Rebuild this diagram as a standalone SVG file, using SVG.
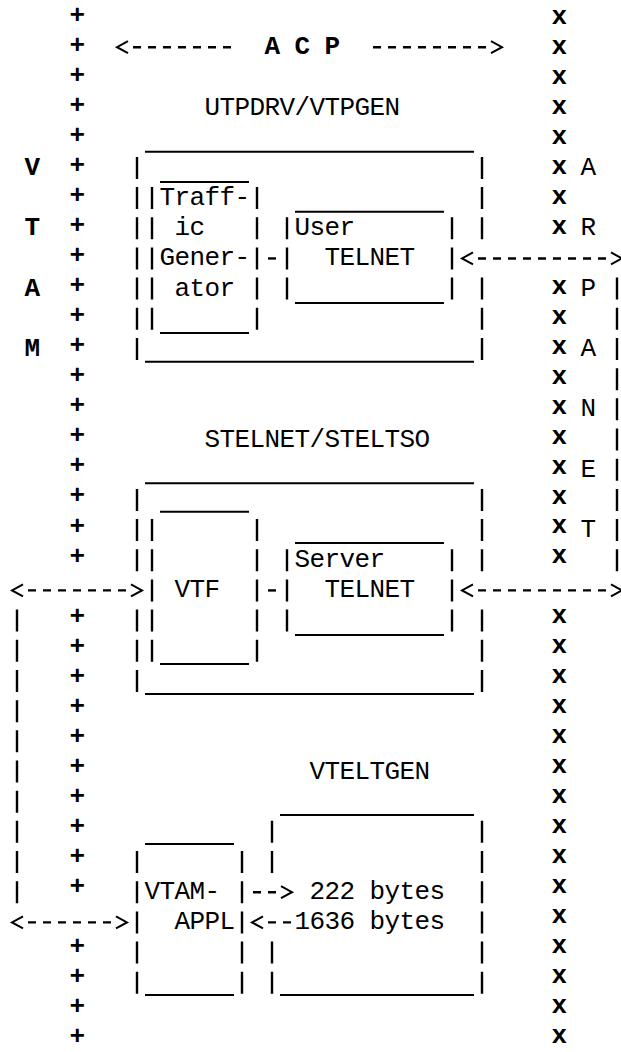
<svg xmlns="http://www.w3.org/2000/svg" width="621" height="1052" viewBox="0 0 621 1052">
<style>
  .t { font-family: "Liberation Mono", "DejaVu Sans Mono", monospace; font-size: 26px; letter-spacing: -0.6px; fill: #000; }
  .b { font-weight: bold; }
  .ln { stroke: #000; stroke-width: 2; fill: none; }
  .bar { stroke: #000; stroke-width: 2.4; fill: none; stroke-dasharray: 22 8.18; }
  .dash { stroke: #000; stroke-width: 2.4; fill: none; stroke-dasharray: 8 7; }
  .arr { marker-end: url(#head); }
  .arr2 { marker-start: url(#head); marker-end: url(#head); }
</style>
<defs>
  <marker id="head" markerUnits="userSpaceOnUse" markerWidth="30" markerHeight="30" refX="-5" refY="0" orient="auto-start-reverse" overflow="visible" viewBox="-10 -10 30 20">
    <path d="M0,-6 L11,0 L0,6" fill="none" stroke="#000" stroke-width="2"/>
  </marker>
</defs>
<rect width="621" height="1052" fill="#fff"/>

<g id="vtam">
  <text class="t b">
    <tspan x="69.5" y="23">+</tspan><tspan x="69.5" y="53.03">+</tspan><tspan x="69.5" y="83.06">+</tspan><tspan x="69.5" y="113.09">+</tspan><tspan x="69.5" y="143.12">+</tspan><tspan x="69.5" y="173.15">+</tspan><tspan x="69.5" y="203.18">+</tspan><tspan x="69.5" y="233.21">+</tspan><tspan x="69.5" y="263.24">+</tspan><tspan x="69.5" y="293.27">+</tspan><tspan x="69.5" y="323.3">+</tspan><tspan x="69.5" y="353.33">+</tspan><tspan x="69.5" y="383.36">+</tspan><tspan x="69.5" y="413.39">+</tspan><tspan x="69.5" y="443.42">+</tspan><tspan x="69.5" y="473.45">+</tspan><tspan x="69.5" y="503.48">+</tspan><tspan x="69.5" y="533.51">+</tspan><tspan x="69.5" y="563.54">+</tspan><tspan x="69.5" y="623.6">+</tspan><tspan x="69.5" y="653.63">+</tspan><tspan x="69.5" y="683.66">+</tspan><tspan x="69.5" y="713.69">+</tspan><tspan x="69.5" y="743.72">+</tspan><tspan x="69.5" y="773.75">+</tspan><tspan x="69.5" y="803.78">+</tspan><tspan x="69.5" y="833.81">+</tspan><tspan x="69.5" y="863.84">+</tspan><tspan x="69.5" y="893.87">+</tspan><tspan x="69.5" y="953.93">+</tspan><tspan x="69.5" y="983.96">+</tspan><tspan x="69.5" y="1013.99">+</tspan><tspan x="69.5" y="1044">+</tspan>
  </text>
  <text class="t b"><tspan x="24.5" y="174.9">V</tspan><tspan x="24.5" y="235.26">T</tspan><tspan x="24.5" y="295.62">A</tspan><tspan x="24.5" y="355.98">M</tspan></text>
</g>

<g id="arpanet">
  <text class="t b">
    <tspan x="551.5" y="24">x</tspan><tspan x="551.5" y="53.97">x</tspan><tspan x="551.5" y="83.94">x</tspan><tspan x="551.5" y="113.91">x</tspan><tspan x="551.5" y="143.88">x</tspan><tspan x="551.5" y="173.85">x</tspan><tspan x="551.5" y="203.82">x</tspan><tspan x="551.5" y="233.79">x</tspan><tspan x="551.5" y="293.73">x</tspan><tspan x="551.5" y="323.7">x</tspan><tspan x="551.5" y="353.67">x</tspan><tspan x="551.5" y="383.64">x</tspan><tspan x="551.5" y="413.61">x</tspan><tspan x="551.5" y="443.58">x</tspan><tspan x="551.5" y="473.55">x</tspan><tspan x="551.5" y="503.52">x</tspan><tspan x="551.5" y="533.49">x</tspan><tspan x="551.5" y="563.46">x</tspan><tspan x="551.5" y="623.4">x</tspan><tspan x="551.5" y="653.37">x</tspan><tspan x="551.5" y="683.34">x</tspan><tspan x="551.5" y="713.31">x</tspan><tspan x="551.5" y="743.28">x</tspan><tspan x="551.5" y="773.25">x</tspan><tspan x="551.5" y="803.22">x</tspan><tspan x="551.5" y="833.19">x</tspan><tspan x="551.5" y="863.16">x</tspan><tspan x="551.5" y="893.13">x</tspan><tspan x="551.5" y="923.1">x</tspan><tspan x="551.5" y="953.07">x</tspan><tspan x="551.5" y="983.04">x</tspan><tspan x="551.5" y="1013.01">x</tspan><tspan x="551.5" y="1043">x</tspan>
  </text>
  <text class="t"><tspan x="580.5" y="174.9">A</tspan><tspan x="580.5" y="235.26">R</tspan><tspan x="580.5" y="295.62">P</tspan><tspan x="580.5" y="355.98">A</tspan><tspan x="580.5" y="416.34">N</tspan><tspan x="580.5" y="476.7">E</tspan><tspan x="580.5" y="537.06">T</tspan></text>
</g>

<g id="acp">
  <text class="t b" x="264.5" y="54.18">A C P</text>
</g>

<g id="utpdrv-vtpgen">
  <text class="t" x="204.5" y="114.54">UTPDRV/VTPGEN</text>
  <path class="ln" d="M145,151.7 H474 M145,361.7 H474"/>
  <path class="bar" d="M137,156.9 V359.98 M482,156.9 V239.26 M482,277.62 V359.98"/>
</g>

<g id="traffic-generator">
  <path class="ln" d="M160,181.9 H249 M160,333 H249"/>
  <path class="bar" d="M152,187.08 V329.8 M257,187.08 V329.8"/>
  <text class="t" x="159.5" y="205.08">Traff-</text>
  <text class="t" x="174.5" y="235.26">ic</text>
  <text class="t" x="159.5" y="265.44">Gener-</text>
  <text class="t" x="174.5" y="295.62">ator</text>
</g>

<g id="user-telnet">
  <path class="ln" d="M295,211.7 H444 M295,303 H444"/>
  <path class="bar" d="M287,217.26 V299.62 M452,217.26 V299.62"/>
  <text class="t" x="294.5" y="235.26">User</text>
  <text class="t" x="324.5" y="265.44">TELNET</text>
</g>

<g id="stelnet-steltso">
  <text class="t" x="204.5" y="446.52">STELNET/STELTSO</text>
  <path class="ln" d="M145,483.3 H474 M145,694 H474"/>
  <path class="bar" d="M137,488.88 V571.24 M137,609.6 V691.96 M482,488.88 V571.24 M482,609.6 V691.96"/>
</g>

<g id="vtf">
  <path class="ln" d="M160,511.7 H249 M160,664 H249"/>
  <path class="bar" d="M152,519.06 V661.78 M257,519.06 V661.78"/>
  <text class="t" x="174.5" y="597.42">VTF</text>
</g>

<g id="server-telnet">
  <path class="ln" d="M295,543 H444 M295,635 H444"/>
  <path class="bar" d="M287,549.24 V631.6 M452,549.24 V631.6"/>
  <text class="t" x="294.5" y="567.24">Server</text>
  <text class="t" x="324.5" y="597.42">TELNET</text>
</g>

<g id="vteltgen">
  <text class="t" x="309.5" y="778.5">VTELTGEN</text>
  <path class="ln" d="M280,815 H474 M280,995 H474"/>
  <path class="bar" d="M272,820.86 V873.04 M272,941.58 V993.76 M482,820.86 V993.76"/>
  <text class="t" x="309.5" y="899.22">222 bytes</text>
  <text class="t" x="294.5" y="929.4">1636 bytes</text>
</g>

<g id="vtam-appl">
  <path class="ln" d="M145,844 H234 M145,995 H234"/>
  <path class="bar" d="M137,851.04 V993.76 M242,851.04 V993.76"/>
  <text class="t" x="144.5" y="899.22">VTAM-</text>
  <text class="t" x="174.5" y="929.4">APPL</text>
</g>

<g id="connectors">
  <path class="dash arr" d="M231,47.18 H133"/>
  <path class="dash arr" d="M373,47.18 H486"/>
  <path class="dash arr2" d="M478,258.44 H606"/>
  <path class="bar" d="M617,277.62 V571.24"/>
  <path class="dash arr2" d="M478,590.42 H606"/>
  <path class="dash" d="M268,258.44 H276"/>
  <path class="dash" d="M268,590.42 H276"/>
  <path class="dash arr2" d="M28,590.42 H126"/>
  <path class="bar" d="M17,609.6 V903.22"/>
  <path class="dash arr2" d="M28,922.4 H111"/>
  <path class="dash arr" d="M253,892.22 H276"/>
  <path class="dash arr" d="M291,922.4 H268"/>
</g>
</svg>
